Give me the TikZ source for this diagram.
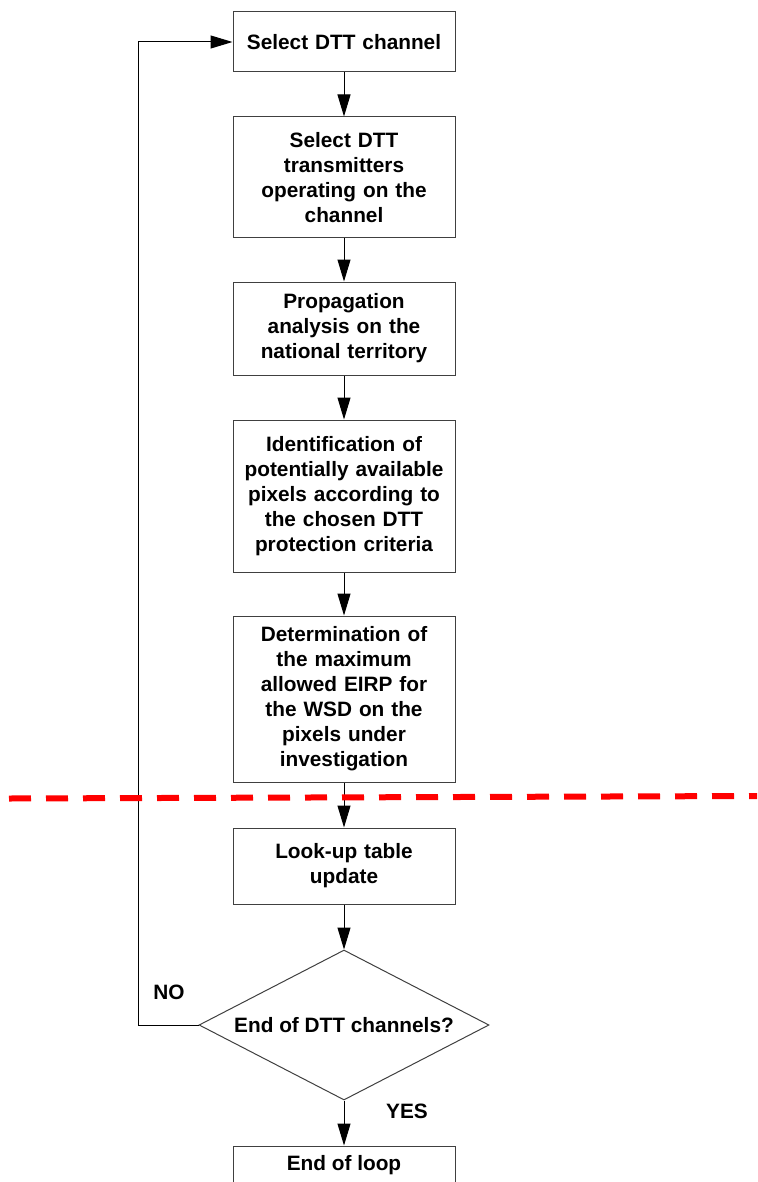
\documentclass[tikz,border=0pt]{standalone}
\usepackage{fontspec}
\setmainfont{Liberation Sans}
\usetikzlibrary{arrows.meta,shapes.geometric}

\tikzset{
  caixa/.style={draw=black!75, line width=0.5pt, fill=white, minimum width=111pt,
    text width=108pt, align=center, inner sep=0pt,
    font=\fontsize{10.4}{12.5}\selectfont\bfseries},
  decisao/.style={draw=black!75, line width=0.5pt, fill=white, diamond, aspect=1.93,
    minimum width=145pt, minimum height=75pt, inner sep=0pt,
    font=\fontsize{10.4}{12.5}\selectfont\bfseries},
  fluxo/.style={draw=black, line width=0.5pt, -{Triangle[length=11pt,width=6.5pt]}},
  rotulo/.style={font=\fontsize{10.4}{12.5}\selectfont\bfseries}
}

\begin{document}
\begin{tikzpicture}[x=0.5pt, y=-0.5pt]  %1 unidade = 1 pixel
    \useasboundingbox (0,0) rectangle (757,1182);

        %Caixas do fluxograma
    \node[caixa, minimum height=30pt] (sel) at (344,42) {Select DTT channel};
    \node[caixa, minimum height=60.5pt] (txs) at (344,177.5) {Select DTT\\ transmitters\\ operating on the\\ channel};
    \node[caixa, minimum height=46.5pt] (prop) at (344,328.5) {Propagation\\ analysis on the\\ national territory};
    \node[caixa, minimum height=76pt] (ident) at (344,496) {Identification of\\ potentially available\\ pixels according to\\ the chosen DTT\\ protection criteria};
    \node[caixa, minimum height=83pt] (eirp) at (344,699) {Determination of\\ the maximum\\ allowed EIRP for\\ the WSD on the\\ pixels under\\ investigation};
    \node[caixa, minimum height=38pt] (lut) at (344,866) {Look-up table\\ update};
    \node[decisao] (endq) at (344,1025) {End of DTT channels?};
    \node[caixa, minimum height=40pt] (done) at (344,1186) {};
    \node[rotulo] (donetxt) at (344,1165) {End of loop};

        %Setas
    \draw[fluxo] (sel) -- (txs);
    \draw[fluxo] (txs) -- (prop);
    \draw[fluxo] (prop) -- (ident);
    \draw[fluxo] (ident) -- (eirp);
    \draw[fluxo] (eirp) -- (lut);
    \draw[fluxo] (lut) -- (endq);
    \draw[fluxo] (endq) -- (done);

        %Retorno (NO)
    \coordinate (volta) at (138,1025);
    \draw[fluxo] (endq.west) -- (volta) |- (sel.west);

    \node[rotulo] (no) at (169,992) {NO};
    \node[rotulo] (yes) at (407,1111) {YES};

        %Linha tracejada vermelha
    \draw[red, line width=3pt, dash pattern=on 11pt off 7.5pt] (9,798.5) -- (757,796);

\end{tikzpicture}
\end{document}
